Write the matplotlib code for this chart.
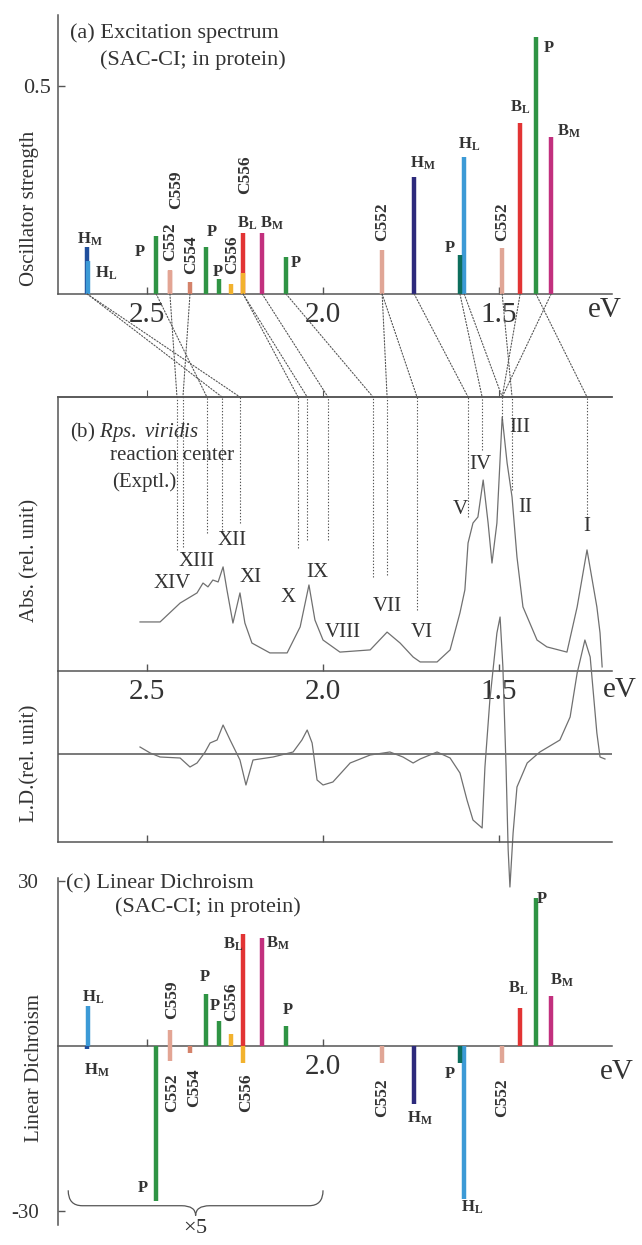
import matplotlib
matplotlib.use('Agg')
import matplotlib.pyplot as plt
from matplotlib.patches import ConnectionPatch, PathPatch
from matplotlib.path import Path

plt.rcParams['font.family'] = ['Liberation Serif', 'DejaVu Serif']
plt.rcParams['mathtext.fontset'] = 'custom'
plt.rcParams['mathtext.rm'] = 'Liberation Serif'
plt.rcParams['mathtext.it'] = 'Liberation Serif:italic'
plt.rcParams['mathtext.bf'] = 'Liberation Serif:bold'

# ---------------- data ----------------
calc_labels = ['HM', 'HL', 'P', 'C559', 'C552', 'C554', 'P', 'P', 'C556', 'BL', 'C556',
               'BM', 'P', 'C552', 'HM', 'HL', 'P', 'C552', 'BL', 'P', 'BM']
calc_energy = [2.670, 2.668, 2.474, 2.435, 2.435, 2.378, 2.332, 2.295, 2.261, 2.227, 2.227,
               2.173, 2.105, 1.832, 1.741, 1.599, 1.611, 1.491, 1.440, 1.395, 1.352]
osc_strength = [0.113, 0.080, 0.139, 0.058, 0.055, 0.029, 0.113, 0.036, 0.024, 0.147, 0.050,
                0.147, 0.089, 0.106, 0.281, 0.329, 0.094, 0.111, 0.411, 0.618, 0.377]
lin_dichroism = [-0.6, 7.3, -28.2, 2.9, -2.7, -1.3, 9.5, 4.5, 2.2, 20.4, -3.1,
                 19.6, 3.6, -3.1, -10.5, -27.8, -3.1, -3.0, 6.9, 26.9, 9.1]

abs_energy = [2.520, 2.463, 2.406, 2.358, 2.341, 2.327, 2.313, 2.298, 2.284, 2.273,
              2.256, 2.236, 2.222, 2.202, 2.151, 2.102, 2.065, 2.040, 2.023, 2.000,
              1.952, 1.866, 1.818, 1.781, 1.744, 1.724, 1.676, 1.639, 1.611, 1.597,
              1.588, 1.574, 1.560, 1.545, 1.531, 1.520, 1.506, 1.491, 1.477, 1.463,
              1.449, 1.432, 1.392, 1.364, 1.307, 1.278, 1.250, 1.222, 1.213, 1.207]
abs_value = [17.9, 17.9, 24.8, 28.5, 32.1, 30.7, 33.2, 32.5, 38.0, 29.6,
             17.5, 28.5, 17.5, 10.2, 6.6, 6.6, 16.1, 31.4, 18.6, 11.3,
             6.9, 7.7, 14.2, 10.2, 5.1, 3.3, 3.3, 7.7, 21.2, 29.6,
             46.7, 54.0, 56.2, 69.7, 54.0, 39.4, 54.0, 92.7, 75.9, 63.5,
             41.6, 23.4, 11.3, 8.8, 6.9, 23.4, 44.2, 23.4, 13.9, 1.5]

ld_energy = [2.520, 2.491, 2.463, 2.406, 2.378, 2.358, 2.335, 2.321, 2.301, 2.284,
             2.264, 2.236, 2.219, 2.199, 2.142, 2.085, 2.060, 2.045, 2.031, 2.017,
             2.000, 1.972, 1.923, 1.866, 1.810, 1.773, 1.744, 1.724, 1.676, 1.639,
             1.611, 1.591, 1.574, 1.548, 1.540, 1.526, 1.506, 1.497, 1.489, 1.480,
             1.474, 1.469, 1.460, 1.449, 1.420, 1.384, 1.327, 1.298, 1.278, 1.256,
             1.241, 1.222, 1.213, 1.199]
ld_value = [0.7, 0.1, -0.3, -0.4, -1.3, -0.9, 0.2, 1.1, 1.4, 2.9,
            1.4, -0.6, -3.1, -0.6, -0.3, 0.2, 1.4, 2.4, 1.1, -2.6,
            -3.1, -2.8, -0.9, -0.1, 0.2, -0.3, -0.9, -0.5, 0.2, -0.4,
            -1.9, -4.6, -6.6, -7.4, -1.3, 5.4, 12.1, 13.7, 8.7, -1.3,
            -9.6, -13.3, -7.9, -3.3, -0.9, 0.2, 1.4, 3.7, 8.1, 11.4,
            9.7, 2.1, -0.3, -0.5]

exp_bands = ['XIV', 'XIII', 'XII', 'XI', 'X', 'IX', 'VIII', 'VII', 'VI', 'V', 'IV', 'III', 'II', 'I']
exp_band_energy = [2.429, 2.358, 2.259, 2.207, 2.099, 2.017, 1.943, 1.818, 1.719, 1.611, 1.554, 1.440, 1.426, 1.250]
exp_band_level = [32.1, 39.8, 47.8, 34.3, 27.0, 35.8, 14.2, 23.4, 13.9, 58.8, 75.2, 88.7, 59.5, 52.6]

# assignment guide lines (calculated -> experimental)
conn_calc = [2.670, 2.670, 2.474, 2.435, 2.378, 2.227, 2.227, 2.173, 2.105, 1.832, 1.832,
             1.741, 1.611, 1.599, 1.491, 1.440, 1.395, 1.352]
conn_exp = [2.287, 2.236, 2.330, 2.415, 2.398, 2.071, 2.045, 1.986, 1.858, 1.818, 1.733,
            1.588, 1.548, 1.491, 1.463, 1.491, 1.250, 1.491]
exp_line_energy = [2.415, 2.398, 2.330, 2.287, 2.236, 2.071, 2.045, 1.986, 1.858, 1.818,
                   1.733, 1.588, 1.548, 1.491, 1.463, 1.250]
exp_line_bottom = [44.2, 45.3, 50.4, 51.5, 54.0, 44.9, 47.8, 47.8, 34.3, 35.0,
                   22.3, 56.2, 80.7, 91.6, 66.1, 51.5]

x_ticks = [2.5, 2.0, 1.5]
x_ticklabels = ['2.5', '2.0', '1.5']

# ---------------- styles ----------------
bar_colors = ['#1f4e9c', '#3c9ad6', '#2f9444', '#e3a594', '#e3a594', '#d4826a', '#2f9444',
              '#2f9444', '#f2b22e', '#e23434', '#f2b22e', '#c2307e', '#2f9444', '#e0a696',
              '#2d2a7c', '#3c9ad6', '#0d6e5c', '#e0a696', '#e23434', '#2f9444', '#c2307e']
LINE = '#555555'
CURVE = '#707070'
TXT = '#333333'
DOT = (0, (1.2, 1.6))
XLIM = (2.753, 1.179)
W, H = 642, 1245


def fx(x):
    return x / W


def fy(y):
    return 1 - y / H


def rect(top, bottom):
    return [58 / W, 1 - bottom / H, 554 / W, (bottom - top) / H]


def label_text(name):
    if name in ('HM', 'HL', 'BM', 'BL'):
        return r'$\mathbf{%s_%s}$' % (name[0], name[1])
    return name


def label_size(rot):
    return 12.5 if rot else 12


fig = plt.figure(figsize=(6.42, 12.45), dpi=100)
ax_a = fig.add_axes(rect(15, 294))
ax_abs = fig.add_axes(rect(397, 671))
ax_ld = fig.add_axes(rect(671, 842))
ax_c = fig.add_axes(rect(878, 1225))

for ax in (ax_a, ax_abs, ax_ld, ax_c):
    ax.set_xlim(*XLIM)
    ax.set_facecolor('none')
    for s in ax.spines.values():
        s.set_color(LINE)
        s.set_linewidth(1.1)
    ax.spines['right'].set_visible(False)
    ax.tick_params(colors=LINE, labelcolor=TXT, width=1.0)

# ---------------- panel (a) ----------------
ax_a.spines['top'].set_visible(False)
ax_a.set_ylim(0, 0.671)
ax_a.vlines(calc_energy, 0, osc_strength, colors=bar_colors, lw=3.2, capstyle='butt', zorder=3)
ax_a.set_xticks(x_ticks)
ax_a.set_xticklabels(x_ticklabels)
ax_a.set_yticks([0.5])
ax_a.set_yticklabels(['0.5'])
ax_a.tick_params(axis='x', direction='in', length=5, labelsize=21, pad=6)
ax_a.tick_params(axis='y', direction='in', length=5, labelsize=16, pad=5)
ax_a.text(1.199, -0.038, 'eV', fontsize=21, ha='center', va='center', color=TXT, clip_on=False)
fig.text(fx(30), fy(208), 'Oscillator strength', rotation=90, fontsize=15, ha='center', va='center', color=TXT)
fig.text(fx(70), fy(33), '(a) Excitation spectrum', fontsize=16, ha='left', va='center', color=TXT)
fig.text(fx(100), fy(60), '(SAC-CI; in protein)', fontsize=16, ha='left', va='center', color=TXT)

ann_a = [
    ('HM', 2.662, 0.132, 0), ('HL', 2.616, 0.050, 0), ('P', 2.520, 0.101, 0),
    ('C552', 2.435, 0.125, 90), ('C559', 2.418, 0.252, 90), ('C554', 2.375, 0.094, 90),
    ('P', 2.315, 0.149, 0), ('P', 2.298, 0.053, 0), ('C556', 2.259, 0.094, 90),
    ('C556', 2.222, 0.286, 90), ('BL', 2.216, 0.171, 0), ('BM', 2.145, 0.171, 0),
    ('P', 2.077, 0.075, 0), ('C552', 1.832, 0.173, 90), ('HM', 1.716, 0.315, 0),
    ('P', 1.639, 0.111, 0), ('HL', 1.585, 0.361, 0), ('C552', 1.491, 0.173, 90),
    ('BL', 1.440, 0.450, 0), ('P', 1.358, 0.591, 0), ('BM', 1.301, 0.392, 0),
]
for name, e, y, rot in ann_a:
    ax_a.text(e, y, label_text(name), rotation=rot, fontsize=label_size(rot), fontweight='bold',
              ha='center', va='center', color=TXT, clip_on=False)

# ---------------- panel (b) absorption ----------------
ax_abs.set_ylim(0, 100)
ax_abs.plot(abs_energy, abs_value, color=CURVE, lw=0.9, zorder=2)
ax_abs.set_yticks([])
ax_abs.set_xticks(x_ticks)
ax_abs.set_xticklabels(x_ticklabels)
ax_abs.tick_params(axis='x', direction='in', length=5, labelsize=21, pad=6)
sec = ax_abs.secondary_xaxis('top')
sec.set_xticks(x_ticks)
sec.tick_params(axis='x', direction='out', length=5, labeltop=False, colors=LINE)
sec.spines['top'].set_color(LINE)
sec.spines['top'].set_linewidth(1.1)
ax_abs.text(1.156, -6.9, 'eV', fontsize=21, ha='center', va='center', color=TXT, clip_on=False)
ax_abs.vlines(exp_line_energy, exp_line_bottom, 100, colors=LINE, linestyles=DOT, lw=0.8)
for name, e, lev in zip(exp_bands, exp_band_energy, exp_band_level):
    ax_abs.text(e, lev, name, fontsize=15, ha='center', va='center', color=TXT)
fig.text(fx(70), fy(432), r'(b) $\mathit{Rps.\ viridis}$', fontsize=15, ha='left', va='center', color=TXT)
fig.text(fx(110), fy(456), 'reaction center', fontsize=15, ha='left', va='center', color=TXT)
fig.text(fx(112), fy(482), '(Exptl.)', fontsize=15, ha='left', va='center', color=TXT)
fig.text(fx(30), fy(560), 'Abs. (rel. unit)', rotation=90, fontsize=15, ha='center', va='center', color=TXT)

for ec, ee in zip(conn_calc, conn_exp):
    cp = ConnectionPatch(xyA=(ec, 0), coordsA='data', axesA=ax_a,
                         xyB=(ee, 100), coordsB='data', axesB=ax_abs,
                         color=LINE, lw=0.8, linestyle=DOT)
    fig.add_artist(cp)

# ---------------- panel (b) linear dichroism ----------------
ax_ld.spines['top'].set_visible(False)
ax_ld.set_ylim(-8.8, 8.3)
ax_ld.axhline(0, color=LINE, lw=1.1)
ax_ld.plot(ld_energy, ld_value, color=CURVE, lw=0.9, clip_on=False, zorder=2)
ax_ld.set_yticks([])
ax_ld.set_xticks(x_ticks)
ax_ld.set_xticklabels([])
ax_ld.tick_params(axis='x', direction='in', length=5)
fig.text(fx(30), fy(763), 'L.D.(rel. unit)', rotation=90, fontsize=15, ha='center', va='center', color=TXT)

# ---------------- panel (c) ----------------
ax_c.spines['top'].set_visible(False)
ax_c.set_ylim(-32.5, 30.5)
ax_c.spines['bottom'].set_position(('data', 0))
ax_c.vlines(calc_energy, 0, lin_dichroism, colors=bar_colors, lw=3.2, capstyle='butt', zorder=3)
ax_c.set_xticks([2.5, 2.0])
ax_c.set_xticklabels(['', '2.0'])
ax_c.set_yticks([30, -30])
ax_c.set_yticklabels(['30', '-30'])
ax_c.tick_params(axis='x', direction='in', length=5, labelsize=21, pad=6)
ax_c.tick_params(axis='y', direction='in', length=5, labelsize=15, pad=14)
ax_c.text(1.165, -4.7, 'eV', fontsize=21, ha='center', va='center', color=TXT, clip_on=False)
fig.text(fx(35), fy(1068), 'Linear Dichroism', rotation=90, fontsize=15, ha='center', va='center', color=TXT)
fig.text(fx(66), fy(884), '(c) Linear Dichroism', fontsize=16, ha='left', va='center', color=TXT)
fig.text(fx(115), fy(907), '(SAC-CI; in protein)', fontsize=16, ha='left', va='center', color=TXT)

ann_c = [
    ('HL', 2.653, 8.9, 0), ('HM', 2.642, -4.4, 0), ('P', 2.511, -25.8, 0),
    ('C559', 2.429, 8.4, 90), ('C552', 2.429, -8.4, 90), ('C554', 2.366, -7.6, 90),
    ('P', 2.335, 12.5, 0), ('P', 2.307, 7.3, 0), ('C556', 2.261, 8.0, 90),
    ('BL', 2.256, 18.4, 0), ('C556', 2.219, -8.4, 90), ('BM', 2.128, 18.7, 0),
    ('P', 2.099, 6.5, 0), ('C552', 1.832, -9.3, 90), ('HM', 1.724, -13.1, 0),
    ('P', 1.639, -5.1, 0), ('HL', 1.577, -29.3, 0), ('C552', 1.491, -9.3, 90),
    ('BL', 1.446, 10.5, 0), ('P', 1.378, 26.7, 0), ('BM', 1.321, 12.0, 0),
]
for name, e, y, rot in ann_c:
    ax_c.text(e, y, label_text(name), rotation=rot, fontsize=label_size(rot), fontweight='bold',
              ha='center', va='center', color=TXT, clip_on=False)

# brace marking the x5 scaled region
BR_L, BR_R = 2.724, 2.0
BR_TOP, BR_LINE, BR_TIP = -26.2, -29.0, -30.8
BR_MID = (BR_L + BR_R) / 2
dx = 0.04
verts = [(BR_L, BR_TOP), (BR_L, BR_LINE), (BR_L - dx, BR_LINE),
         (BR_MID + dx, BR_LINE), (BR_MID, BR_LINE), (BR_MID, BR_TIP),
         (BR_MID, BR_LINE), (BR_MID - dx, BR_LINE),
         (BR_R + dx, BR_LINE), (BR_R, BR_LINE), (BR_R, BR_TOP)]
codes = [Path.MOVETO, Path.CURVE3, Path.CURVE3,
         Path.LINETO, Path.CURVE3, Path.CURVE3,
         Path.CURVE3, Path.CURVE3,
         Path.LINETO, Path.CURVE3, Path.CURVE3]
ax_c.add_patch(PathPatch(Path(verts, codes), fill=False, edgecolor=LINE, lw=0.9, clip_on=False))
ax_c.text(BR_MID, -33.2, r'$\times$5', fontsize=16, ha='center', va='center', color=TXT, clip_on=False)

fig.savefig('out.png', dpi=100, facecolor='white')
